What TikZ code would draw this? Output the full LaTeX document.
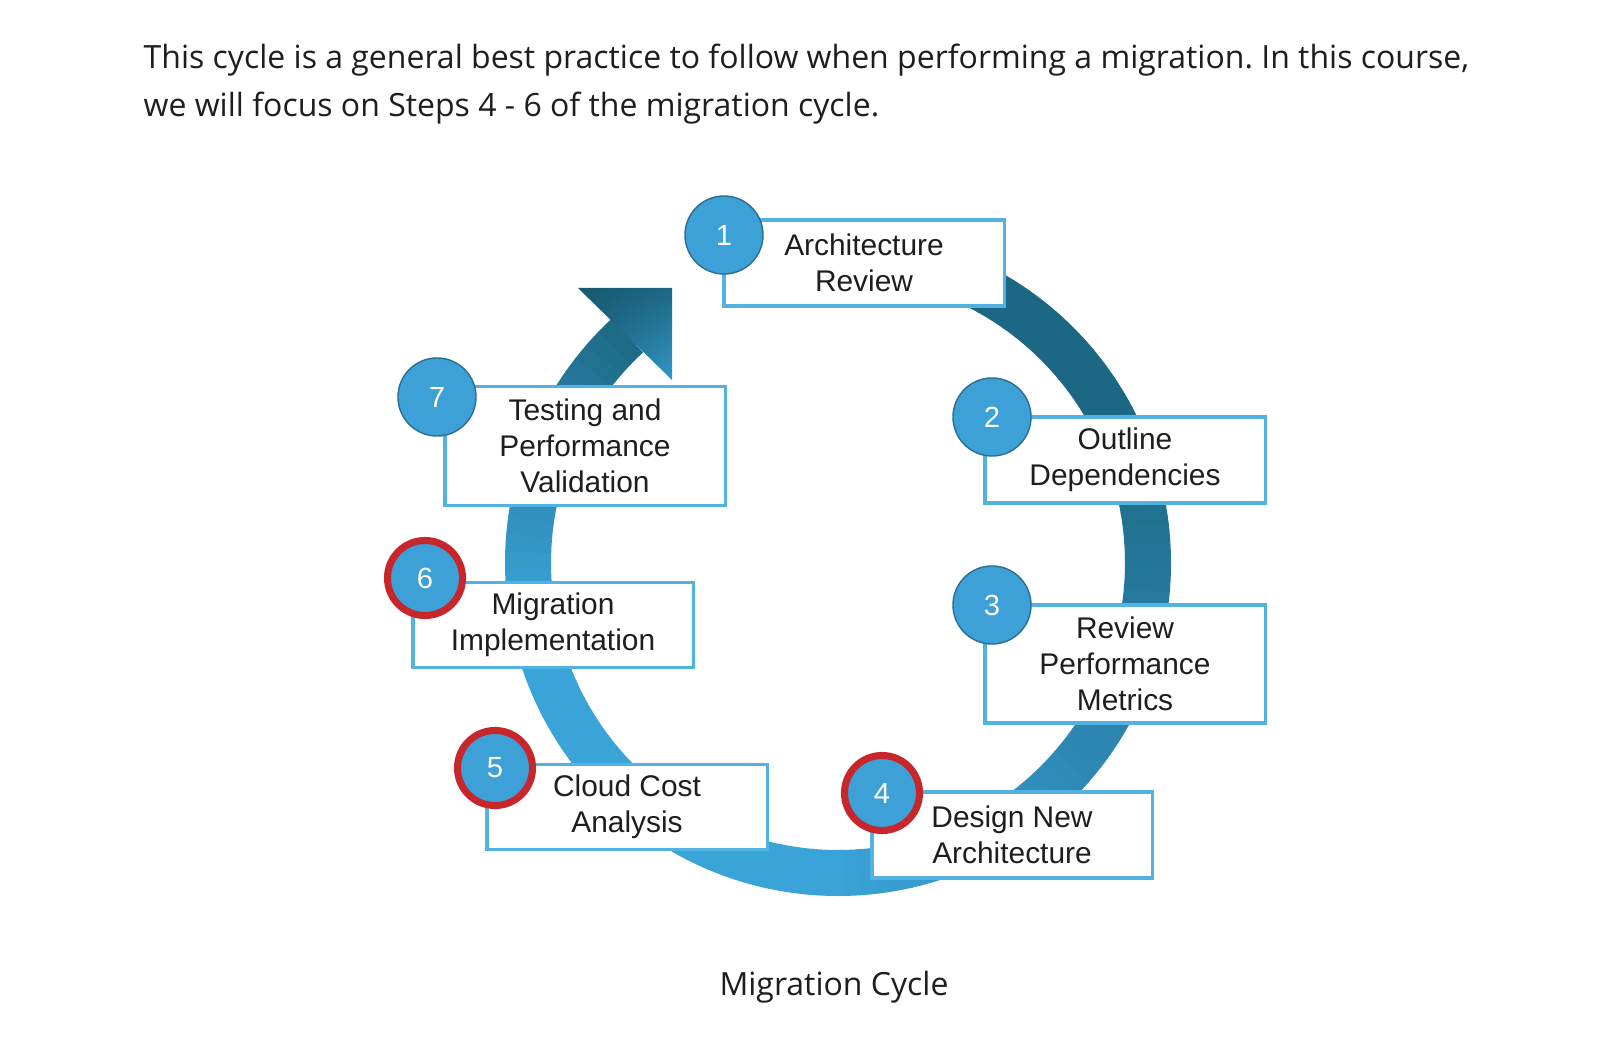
\documentclass[tikz,border=0pt]{standalone}
\usepackage{fontspec}
\setmainfont{Open Sans}
\newfontfamily\boxfont{Liberation Sans}
\usetikzlibrary{positioning,shadings}
\definecolor{ringdark}{HTML}{1C6783}
\definecolor{ringlight}{HTML}{3AA3D8}
\definecolor{boxline}{HTML}{52B3E2}
\definecolor{numfill}{HTML}{3DA0D6}
\definecolor{numline}{HTML}{2B6E92}
\definecolor{focusred}{HTML}{C7262B}
\definecolor{inktext}{HTML}{1E1E1E}
\frenchspacing

\begin{document}
\begin{tikzpicture}[x=0.01cm,y=-0.01cm,
    stepbox/.style={draw=boxline, line width=0.9pt, fill=white, minimum width=2.8cm,
      minimum height=0.86cm, align=center, inner sep=0pt, text=inktext,
      font=\boxfont\fontsize{8.5pt}{10.2pt}\selectfont},
    stepnum/.style={circle, fill=numfill, draw=numline, line width=0.4pt, minimum size=0.78cm,
      inner sep=0pt, text=white, font=\boxfont\fontsize{8.3pt}{8.3pt}\selectfont},
    focus/.style={draw=focusred, line width=2pt, minimum size=0.75cm}]
  \fill[white] (0,0) rectangle (1600,1046);
  \useasboundingbox (0,0) rectangle (1600,1046);
  % intro text
  \node[anchor=base west, inner sep=0pt, text=inktext, font=\fontsize{9.1pt}{11pt}\selectfont] (intro1) at (143,69)
    {This cycle is a general best practice to follow when performing a migration. In this course,};
  \node[anchor=base west, inner sep=0pt, text=inktext, font=\fontsize{9.1pt}{11pt}\selectfont] (intro2) at (143,117)
    {we will focus on Steps 4 - 6 of the migration cycle.};
  % ring
  \coordinate (hub) at (838,563);
  \foreach \a in {-100,-97,...,224}{
    \pgfmathtruncatemacro\p{\a<=-30 ? 100 : (\a<=90 ? (90-\a)/120*100 : (\a<=170 ? 0 : (\a-170)/57*100))}
    \draw[line width=0.46cm, ringdark!\p!ringlight] (hub) ++(\a:310) arc[start angle=\a, end angle=\a+3.2, radius=310];
  }
  % arrow head
  \shade[upper left=ringdark!85!black, upper right=ringdark, lower left=ringdark,
    lower right=ringlight!80!ringdark] (578,288) -- (672,288) -- (672,380) -- cycle;
  % steps
  \node[stepbox] (arch) at (864,263) {Architecture\\Review};
  \node[stepbox] (deps) at (1125,460) {Outline\\Dependencies};
  \node[stepbox, minimum height=1.18cm] (perf) at (1125,664) {Review\\Performance\\Metrics};
  \node[stepbox] (design) at (1012,835) {Design New\\Architecture};
  \node[stepbox, minimum height=0.85cm] (cost) at (627,807) {Cloud Cost\\Analysis};
  \node[stepbox, minimum height=0.85cm] (impl) at (553,625) {Migration\\Implementation};
  \node[stepbox, minimum height=1.19cm] (test) at (585,446) {Testing and\\Performance\\Validation};
  % numbers
  \node[stepnum] (n1) at (724,235) {1};
  \node[stepnum] (n2) at (992,417) {2};
  \node[stepnum] (n3) at (992,605) {3};
  \node[stepnum, focus] (n4) at (882,793) {4};
  \node[stepnum, focus] (n5) at (495,768) {5};
  \node[stepnum, focus] (n6) at (425,578) {6};
  \node[stepnum] (n7) at (437,397) {7};
  % caption
  \node[anchor=base, inner sep=0pt, text=inktext, font=\fontsize{9.1pt}{11pt}\selectfont] (caption) at (834,995) {Migration Cycle};
\end{tikzpicture}
\end{document}
